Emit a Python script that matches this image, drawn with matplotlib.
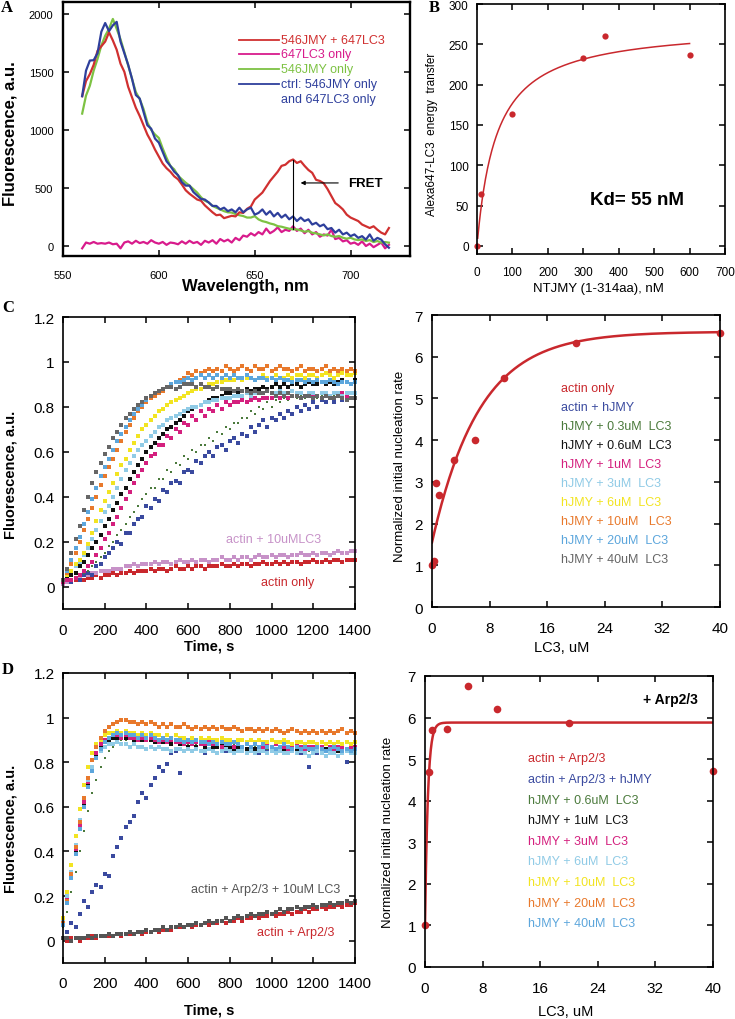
import numpy as np
import matplotlib
matplotlib.use("Agg")
import matplotlib.pyplot as plt

plt.rcParams['font.family'] = ['Liberation Sans', 'DejaVu Sans']

W, H = 735, 1020

# ---------------- Panel A: emission spectra ----------------
wavelength_nm = np.arange(560, 721, 2)
spec_546JMY_647LC3 = [1290, 1420, 1480, 1560, 1680, 1720, 1760, 1840, 1770, 1690,
                      1570, 1500, 1370, 1280, 1190, 1120, 1040, 960, 900, 830,
                      770, 710, 670, 640, 600, 575, 530, 480, 450, 425,
                      400, 390, 350, 320, 290, 265, 270, 240, 250, 260,
                      255, 290, 285, 320, 340, 400, 430, 460, 510, 560,
                      600, 640, 690, 700, 730, 745, 715, 730, 690, 655,
                      630, 570, 560, 540, 490, 430, 370, 345, 315, 270,
                      245, 230, 215, 185, 170, 155, 170, 140, 115, 100,
                      155]
spec_647LC3_only = [-20, 30, 20, 35, 20, 25, 20, 30, 15, 20,
                    -20, 30, 40, 20, 45, 25, 35, 20, 50, 30,
                    20, 35, 10, 30, 25, 15, 40, 20, 45, 25,
                    35, 10, 45, 30, 50, 20, 60, 40, 55, 30,
                    70, 50, 90, 80, 110, 90, 120, 100, 150, 110,
                    130, 160, 120, 140, 130, 170, 130, 150, 110, 140,
                    100, 120, 80, 100, 90, 140, 60, 70, 40, 50,
                    20, 30, 10, 40, 0, 20, -10, 10, 30, -20,
                    10]
spec_546JMY_only = [1140, 1295, 1380, 1510, 1610, 1727, 1810, 1870, 1955, 1870,
                    1780, 1670, 1555, 1440, 1325, 1266, 1180, 1065, 1000, 960,
                    930, 840, 760, 690, 660, 605, 575, 545, 520, 490,
                    460, 420, 390, 375, 345, 330, 315, 300, 290, 288,
                    275, 265, 258, 245, 245, 257, 229, 214, 206, 194,
                    186, 171, 166, 157, 149, 143, 143, 134, 123, 129,
                    114, 109, 100, 91, 100, 86, 80, 86, 71, 63,
                    71, 57, 51, 57, 43, 51, 34, 43, 29, 34,
                    29]
spec_ctrl = [1290, 1510, 1597, 1600, 1660, 1845, 1920, 1850, 1900, 1930,
             1760, 1660, 1560, 1440, 1300, 1270, 1155, 1040, 1010, 925,
             890, 810, 730, 690, 640, 610, 550, 520, 520, 465,
             435, 405, 400, 375, 345, 345, 315, 330, 300, 315,
             290, 330, 290, 315, 330, 270, 285, 315, 270, 300,
             255, 285, 245, 270, 230, 255, 215, 245, 215, 230,
             185, 200, 170, 185, 145, 155, 115, 140, 100, 115,
             85, 100, 70, 85, 55, 100, 45, 70, 55, 15,
             -15]
legend_A = ["546JMY + 647LC3", "647LC3 only", "546JMY only", "ctrl: 546JMY only"]

# ---------------- Panel B: binding ----------------
ntjmy_nM = [0, 10, 100, 300, 360, 600]
energy_transfer = [0, 64, 163, 233, 260, 237]
kd_nM = 55
bmax = 274

# ---------------- Panel C: time courses (no Arp2/3) ----------------
time_s = np.arange(0, 1401, 20)
c_actin_only = [0.01,0.02,0.02,0.03,0.03,0.03,0.04,0.04,0.05,0.04,0.05,0.05,0.06,0.05,0.06,0.06,0.07,0.06,0.07,0.07,
                0.07,0.08,0.07,0.08,0.08,0.07,0.08,0.09,0.08,0.08,0.09,0.08,0.09,0.09,0.08,0.09,0.09,0.09,0.10,0.09,
                0.09,0.10,0.09,0.10,0.10,0.09,0.10,0.10,0.11,0.10,0.10,0.11,0.10,0.11,0.10,0.11,0.11,0.10,0.11,0.11,
                0.12,0.11,0.11,0.12,0.11,0.12,0.12,0.11,0.12,0.12,0.12]
c_actin_lc3 = [0.01,0.02,0.03,0.04,0.04,0.05,0.05,0.06,0.06,0.07,0.07,0.07,0.08,0.08,0.08,0.09,0.09,0.10,0.09,0.10,
               0.10,0.10,0.11,0.10,0.11,0.11,0.10,0.11,0.12,0.11,0.11,0.12,0.11,0.12,0.12,0.11,0.12,0.12,0.13,0.12,
               0.12,0.13,0.12,0.13,0.13,0.12,0.13,0.14,0.13,0.13,0.14,0.13,0.14,0.14,0.13,0.14,0.14,0.15,0.14,0.14,
               0.15,0.14,0.15,0.15,0.14,0.15,0.16,0.15,0.15,0.16,0.16]
c_hjmy = [0.02,0.03,0.02,0.04,0.03,0.05,0.06,0.05,0.09,0.10,0.13,0.15,0.17,0.20,0.19,0.24,0.24,0.28,0.30,0.31,
          0.36,0.35,0.39,0.38,0.43,0.42,0.46,0.47,0.46,0.51,0.52,0.51,0.56,0.55,0.58,0.60,0.58,0.62,0.63,0.61,
          0.65,0.66,0.64,0.68,0.67,0.71,0.69,0.72,0.74,0.71,0.75,0.74,0.77,0.75,0.78,0.77,0.80,0.78,0.81,0.79,
          0.82,0.80,0.83,0.82,0.84,0.82,0.85,0.83,0.85,0.84,0.86]
c_lc3_0_3 = [0.02,0.03,0.03,0.04,0.05,0.06,0.07,0.09,0.11,0.13,0.15,0.18,0.20,0.23,0.25,0.28,0.31,0.33,0.36,0.39,
             0.41,0.44,0.44,0.48,0.48,0.52,0.51,0.55,0.54,0.58,0.57,0.61,0.60,0.63,0.63,0.66,0.65,0.69,0.68,0.71,
             0.70,0.73,0.73,0.75,0.75,0.78,0.77,0.80,0.79,0.82,0.80,0.83,0.82,0.84,0.83,0.85,0.84,0.85,0.84,0.86,
             0.85,0.84,0.85,0.85,0.84,0.85,0.85,0.84,0.85,0.84,0.85]
c_lc3_0_6 = [0.03,0.04,0.05,0.06,0.09,0.11,0.14,0.17,0.20,0.23,0.27,0.30,0.34,0.37,0.41,0.44,0.48,0.51,0.54,0.57,
             0.60,0.62,0.64,0.66,0.68,0.70,0.71,0.73,0.74,0.76,0.78,0.79,0.80,0.81,0.82,0.83,0.84,0.84,0.85,0.86,
             0.86,0.87,0.86,0.87,0.88,0.87,0.88,0.88,0.89,0.88,0.89,0.90,0.89,0.90,0.89,0.90,0.90,0.89,0.90,0.91,
             0.90,0.90,0.91,0.90,0.91,0.90,0.91,0.92,0.91,0.90,0.92]
c_lc3_1 = [0.02,0.03,0.03,0.04,0.05,0.07,0.09,0.11,0.14,0.17,0.21,0.24,0.28,0.31,0.35,0.39,0.42,0.46,0.49,0.52,
           0.55,0.58,0.59,0.63,0.63,0.67,0.66,0.70,0.69,0.73,0.72,0.76,0.74,0.78,0.76,0.79,0.78,0.81,0.79,0.82,
           0.81,0.82,0.82,0.83,0.82,0.83,0.84,0.83,0.84,0.84,0.84,0.85,0.84,0.85,0.84,0.85,0.85,0.84,0.85,0.86,
           0.85,0.85,0.86,0.85,0.85,0.86,0.85,0.86,0.85,0.86,0.86]
c_lc3_3 = [0.03,0.05,0.07,0.09,0.11,0.14,0.17,0.21,0.25,0.29,0.33,0.36,0.40,0.44,0.48,0.52,0.55,0.58,0.61,0.63,
           0.65,0.67,0.69,0.71,0.72,0.74,0.75,0.76,0.77,0.78,0.79,0.80,0.80,0.81,0.82,0.82,0.83,0.83,0.84,0.84,
           0.84,0.85,0.85,0.85,0.86,0.85,0.86,0.86,0.86,0.87,0.86,0.86,0.87,0.86,0.86,0.87,0.86,0.86,0.85,0.86,
           0.86,0.85,0.86,0.86,0.85,0.86,0.86,0.85,0.86,0.86,0.86]
c_lc3_6 = [0.03,0.05,0.07,0.10,0.12,0.15,0.19,0.24,0.29,0.34,0.38,0.42,0.46,0.50,0.54,0.57,0.61,0.64,0.67,0.70,
           0.72,0.74,0.76,0.78,0.79,0.81,0.82,0.83,0.84,0.85,0.86,0.87,0.88,0.88,0.89,0.90,0.90,0.91,0.91,0.92,
           0.92,0.92,0.93,0.92,0.93,0.93,0.92,0.93,0.94,0.93,0.93,0.94,0.93,0.93,0.94,0.93,0.94,0.94,0.93,0.94,
           0.94,0.93,0.94,0.95,0.94,0.93,0.94,0.95,0.94,0.94,0.95]
c_lc3_10 = [0.03,0.06,0.10,0.15,0.20,0.25,0.30,0.35,0.40,0.45,0.49,0.53,0.57,0.61,0.65,0.69,0.72,0.75,0.78,0.80,
            0.82,0.84,0.85,0.86,0.87,0.89,0.90,0.91,0.92,0.93,0.95,0.94,0.96,0.95,0.96,0.97,0.96,0.97,0.96,0.98,
            0.97,0.96,0.97,0.98,0.97,0.96,0.98,0.97,0.97,0.98,0.96,0.97,0.98,0.97,0.97,0.96,0.97,0.98,0.96,0.97,
            0.97,0.96,0.97,0.98,0.96,0.97,0.96,0.97,0.96,0.97,0.96]
c_lc3_20 = [0.03,0.07,0.12,0.17,0.22,0.28,0.33,0.39,0.44,0.49,0.53,0.57,0.61,0.65,0.68,0.71,0.74,0.77,0.79,0.81,
            0.83,0.85,0.86,0.87,0.88,0.89,0.90,0.91,0.91,0.92,0.93,0.92,0.93,0.94,0.93,0.94,0.93,0.94,0.93,0.94,
            0.93,0.94,0.93,0.93,0.94,0.93,0.92,0.93,0.93,0.92,0.93,0.92,0.93,0.92,0.92,0.91,0.92,0.92,0.91,0.92,
            0.91,0.92,0.91,0.91,0.92,0.91,0.90,0.91,0.91,0.90,0.91]
c_lc3_40 = [0.03,0.08,0.15,0.21,0.27,0.34,0.40,0.46,0.51,0.55,0.59,0.62,0.66,0.69,0.72,0.75,0.77,0.79,0.81,0.82,
            0.84,0.85,0.86,0.87,0.88,0.89,0.89,0.88,0.89,0.90,0.90,0.90,0.89,0.90,0.89,0.89,0.88,0.89,0.88,0.88,
            0.88,0.87,0.88,0.87,0.87,0.86,0.87,0.86,0.86,0.87,0.86,0.85,0.86,0.85,0.86,0.85,0.85,0.84,0.85,0.85,
            0.84,0.85,0.84,0.85,0.84,0.84,0.85,0.84,0.83,0.84,0.84]

# Panel C right: initial nucleation rate vs LC3
c_lc3_uM = [0, 0.3, 0.6, 1, 3, 6, 10, 20, 40]
c_rate = [1.0, 1.1, 2.97, 2.69, 3.53, 4.0, 5.48, 6.34, 6.56]
c_fit_max, c_fit_amp, c_fit_k = 6.6, 5.05, 6.6
c_legend = ["actin only", "actin + hJMY", "hJMY + 0.3uM  LC3", "hJMY + 0.6uM  LC3",
            "hJMY + 1uM  LC3", "hJMY + 3uM  LC3", "hJMY + 6uM  LC3", "hJMY + 10uM   LC3",
            "hJMY + 20uM  LC3", "hJMY + 40uM  LC3"]

# ---------------- Panel D: time courses (+ Arp2/3) ----------------
d_actin_arp = [0.01,0.00,0.01,0.01,0.00,0.01,0.01,0.02,0.01,0.02,0.02,0.02,0.02,0.03,0.02,0.03,0.03,0.03,0.04,0.03,
               0.04,0.04,0.05,0.04,0.05,0.05,0.05,0.06,0.06,0.06,0.07,0.06,0.07,0.07,0.08,0.07,0.08,0.08,0.09,0.08,
               0.09,0.09,0.10,0.09,0.10,0.10,0.11,0.10,0.11,0.11,0.12,0.11,0.12,0.12,0.13,0.12,0.13,0.13,0.14,0.13,
               0.14,0.14,0.15,0.14,0.15,0.15,0.16,0.15,0.16,0.16,0.17]
d_arp_lc3 = [0.01,0.01,0.00,0.01,0.01,0.01,0.02,0.01,0.02,0.02,0.02,0.03,0.02,0.03,0.03,0.03,0.04,0.03,0.04,0.04,
             0.05,0.04,0.05,0.05,0.06,0.05,0.06,0.06,0.07,0.06,0.07,0.07,0.08,0.07,0.08,0.09,0.08,0.09,0.09,0.10,
             0.09,0.10,0.11,0.10,0.11,0.12,0.11,0.12,0.12,0.13,0.12,0.13,0.14,0.13,0.14,0.14,0.15,0.14,0.15,0.15,
             0.16,0.15,0.16,0.16,0.17,0.16,0.17,0.17,0.18,0.17,0.18]
d_hjmy = [0.10,0.04,0.08,0.06,0.12,0.18,0.15,0.22,0.25,0.24,0.30,0.29,0.38,0.42,0.46,0.51,0.53,0.56,0.62,0.66,
          0.64,0.70,0.73,0.78,0.76,0.79,0.84,0.85,0.75,0.85,0.86,0.85,0.86,0.85,0.84,0.86,0.85,0.84,0.86,0.85,
          0.85,0.84,0.86,0.85,0.84,0.85,0.86,0.84,0.85,0.86,0.85,0.84,0.85,0.86,0.84,0.85,0.86,0.84,0.85,0.78,
          0.85,0.84,0.86,0.85,0.84,0.85,0.86,0.84,0.80,0.85,0.86]
d_lc3_0_6 = [0.06,0.13,0.22,0.31,0.40,0.49,0.58,0.66,0.72,0.78,0.82,0.85,0.87,0.89,0.90,0.90,0.91,0.90,0.90,0.91,
             0.90,0.90,0.89,0.90,0.89,0.90,0.89,0.89,0.88,0.89,0.88,0.89,0.88,0.88,0.87,0.88,0.88,0.87,0.88,0.87,
             0.87,0.88,0.87,0.87,0.86,0.87,0.87,0.86,0.87,0.86,0.87,0.86,0.86,0.87,0.86,0.86,0.85,0.86,0.86,0.85,
             0.86,0.86,0.85,0.86,0.85,0.86,0.86,0.85,0.86,0.85,0.86]
d_lc3_1 = [0.08,0.18,0.29,0.40,0.51,0.61,0.70,0.78,0.83,0.87,0.89,0.90,0.91,0.91,0.92,0.91,0.91,0.90,0.91,0.90,
           0.90,0.90,0.89,0.90,0.89,0.89,0.88,0.89,0.88,0.88,0.87,0.88,0.87,0.88,0.87,0.88,0.87,0.87,0.88,0.87,
           0.87,0.86,0.87,0.87,0.86,0.87,0.86,0.87,0.86,0.87,0.86,0.86,0.87,0.86,0.86,0.87,0.86,0.86,0.85,0.86,
           0.86,0.85,0.86,0.86,0.85,0.86,0.85,0.86,0.86,0.85,0.86]
d_lc3_3 = [0.09,0.19,0.30,0.41,0.52,0.62,0.71,0.78,0.84,0.88,0.90,0.91,0.92,0.92,0.91,0.92,0.91,0.91,0.90,0.91,
           0.90,0.91,0.90,0.89,0.90,0.89,0.90,0.89,0.89,0.88,0.89,0.88,0.89,0.88,0.88,0.89,0.88,0.88,0.87,0.88,
           0.88,0.87,0.88,0.87,0.88,0.87,0.88,0.87,0.87,0.88,0.87,0.88,0.87,0.87,0.86,0.87,0.88,0.87,0.86,0.87,
           0.87,0.86,0.87,0.88,0.87,0.86,0.87,0.87,0.86,0.87,0.87]
d_lc3_6 = [0.09,0.20,0.31,0.43,0.54,0.64,0.72,0.78,0.82,0.85,0.87,0.88,0.88,0.89,0.88,0.88,0.87,0.88,0.87,0.87,
           0.86,0.87,0.86,0.87,0.86,0.86,0.85,0.86,0.86,0.85,0.86,0.85,0.86,0.85,0.85,0.86,0.85,0.84,0.85,0.86,
           0.85,0.84,0.85,0.85,0.84,0.85,0.84,0.85,0.85,0.84,0.85,0.84,0.85,0.84,0.84,0.85,0.84,0.85,0.84,0.83,
           0.84,0.85,0.84,0.83,0.84,0.84,0.83,0.84,0.85,0.84,0.84]
d_lc3_10 = [0.10,0.22,0.34,0.47,0.59,0.70,0.78,0.84,0.88,0.90,0.92,0.93,0.93,0.94,0.93,0.94,0.93,0.93,0.92,0.93,
            0.92,0.93,0.92,0.92,0.91,0.92,0.91,0.92,0.91,0.91,0.90,0.91,0.90,0.91,0.90,0.91,0.90,0.90,0.91,0.90,
            0.90,0.89,0.90,0.90,0.89,0.90,0.89,0.90,0.89,0.89,0.90,0.89,0.89,0.90,0.89,0.88,0.89,0.89,0.88,0.89,
            0.89,0.88,0.89,0.88,0.89,0.88,0.89,0.88,0.89,0.88,0.89]
d_lc3_20 = [0.08,0.18,0.30,0.42,0.53,0.64,0.73,0.81,0.87,0.91,0.94,0.96,0.97,0.98,0.99,0.99,0.98,0.98,0.97,0.98,
            0.97,0.98,0.97,0.96,0.97,0.96,0.97,0.96,0.96,0.97,0.96,0.95,0.96,0.95,0.96,0.95,0.96,0.95,0.96,0.95,
            0.95,0.96,0.95,0.94,0.95,0.95,0.94,0.95,0.94,0.95,0.94,0.95,0.94,0.93,0.94,0.95,0.94,0.93,0.94,0.93,
            0.94,0.93,0.94,0.93,0.94,0.93,0.94,0.95,0.93,0.94,0.93]
d_lc3_40 = [0.07,0.17,0.28,0.39,0.50,0.60,0.69,0.76,0.82,0.86,0.89,0.91,0.92,0.93,0.92,0.93,0.92,0.92,0.91,0.92,
            0.91,0.92,0.91,0.90,0.91,0.90,0.91,0.90,0.90,0.89,0.90,0.89,0.90,0.89,0.89,0.88,0.89,0.88,0.89,0.88,
            0.88,0.89,0.88,0.87,0.88,0.87,0.88,0.87,0.88,0.87,0.87,0.86,0.87,0.88,0.87,0.86,0.87,0.86,0.87,0.86,
            0.86,0.87,0.86,0.85,0.86,0.87,0.86,0.85,0.86,0.85,0.86]

# Panel D right
d_lc3_uM = [0, 0.6, 1, 3, 6, 10, 20, 40]
d_rate = [1.0, 4.68, 5.70, 5.72, 6.76, 6.20, 5.86, 4.72]
d_fit_max, d_fit_amp, d_fit_k = 5.88, 4.88, 0.4
d_legend = ["actin + Arp2/3", "actin + Arp2/3 + hJMY", "hJMY + 0.6uM  LC3", "hJMY + 1uM  LC3",
            "hJMY + 3uM  LC3", "hJMY + 6uM  LC3", "hJMY + 10uM  LC3", "hJMY + 20uM  LC3",
            "hJMY + 40uM  LC3"]

# ---------------- colours ----------------
RED = '#c9282d'
LAV = '#c792c8'
BLUE = '#3a4a9f'
GREEN = '#4b7a3c'
BLACK = '#111111'
MAG = '#d4207e'
LBLUE = '#90cbe6'
YEL = '#f2e422'
ORG = '#e8792c'
SKY = '#5ca6dc'
GRAY = '#666666'

fig = plt.figure(figsize=(W / 100, H / 100), dpi=100)


def px_rect(l, t, r, b):
    return [l / W, 1 - b / H, (r - l) / W, (b - t) / H]


def ftext(x, y, s, **kw):
    fig.text(x / W, 1 - y / H, s, **kw)


def style(ax, size, xpad, ypad, lw=1.2):
    for sp in ax.spines.values():
        sp.set_linewidth(lw)
    ax.tick_params(direction='in', top=True, right=True, length=4.5, width=1.1,
                   labelsize=size)
    ax.tick_params(axis='x', pad=xpad)
    ax.tick_params(axis='y', pad=ypad)


# ================= Panel A =================
axA = fig.add_axes(px_rect(63, 3, 410, 257))
axA.plot(wavelength_nm, spec_647LC3_only, color='#d81b8c', lw=1.6)
axA.plot(wavelength_nm, spec_546JMY_only, color='#7dc243', lw=1.6)
axA.plot(wavelength_nm, spec_546JMY_647LC3, color='#d03030', lw=1.6)
axA.plot(wavelength_nm, spec_ctrl, color='#2e3f9c', lw=1.6)
axA.set_xlim(550, 731)
axA.set_ylim(-86, 2101)
axA.set_xticks([550, 600, 650, 700])
axA.set_yticks([0, 500, 1000, 1500, 2000])
style(axA, 8, 10, 7, lw=1.7)
leg_cols = ['#d03030', '#d81b8c', '#7dc243', '#2e3f9c']
leg_y = [1776, 1655, 1526, 1397]
for lab, col, yv in zip(legend_A, leg_cols, leg_y):
    axA.plot([642, 662.5], [yv, yv], color=col, lw=1.3)
    axA.text(663.5, yv, lab, color=col, fontsize=9, va='center')
axA.text(663.5, 1267, "and 647LC3 only", color='#2e3f9c', fontsize=9, va='center')
axA.plot([670, 670], [740, 150], color='k', lw=0.8)
axA.annotate('', xy=(672.5, 543), xytext=(695, 543),
             arrowprops=dict(arrowstyle='-|>', color='k', lw=0.8, mutation_scale=6))
axA.text(698.6, 543, 'FRET', fontsize=9.5, fontweight='bold', va='center')
ftext(245, 287, 'Wavelength, nm', fontsize=12, fontweight='bold', ha='center', va='center')
ftext(10, 134, 'Fluorescence, a.u.', fontsize=12, fontweight='bold', ha='center',
      va='center', rotation=90)

# ================= Panel B =================
axB = fig.add_axes(px_rect(477, 5, 725, 255))
xf = np.linspace(2, 600, 300)
axB.plot(xf, bmax * xf / (kd_nM + xf), color=RED, lw=1.1)
axB.plot(ntjmy_nM, energy_transfer, 'o', color=RED, ms=4.5, mew=0, clip_on=False)
axB.set_xlim(0, 700)
axB.set_ylim(-10, 300)
axB.set_xticks(range(0, 701, 100))
axB.set_yticks(range(0, 301, 50))
style(axB, 8.5, 9, 6)
axB.text(320, 58, 'Kd= 55 nM', fontsize=13.5, fontweight='bold', va='center')
ftext(598, 289, 'NTJMY (1-314aa), nM', fontsize=9.5, ha='center', va='center')
ftext(432, 134, 'Alexa647-LC3  energy  transfer', fontsize=8.5, ha='center', va='center',
      rotation=90)

# ================= Panel C left =================
axC = fig.add_axes(px_rect(63, 318, 355, 610))
c_series = [(c_actin_only, RED), (c_actin_lc3, LAV), (c_hjmy, BLUE), (c_lc3_0_3, GREEN),
            (c_lc3_0_6, BLACK), (c_lc3_1, MAG), (c_lc3_3, LBLUE), (c_lc3_6, YEL),
            (c_lc3_10, ORG), (c_lc3_20, SKY), (c_lc3_40, GRAY)]
for ys, col in c_series:
    ms = 2.0 if col == GREEN else 2.6
    axC.plot(time_s, ys, 's', color=col, ms=ms, mew=0, clip_on=False)
axC.set_xlim(0, 1400)
axC.set_ylim(-0.1, 1.2)
axC.set_xticks(range(0, 1401, 200))
axC.set_yticks([0, 0.2, 0.4, 0.6, 0.8, 1.0, 1.2])
axC.set_yticklabels(['0', '0.2', '0.4', '0.6', '0.8', '1', '1.2'])
style(axC, 11, 10, 6)
axC.text(781, 0.21, 'actin + 10uMLC3', color=LAV, fontsize=9, va='center')
axC.text(949, 0.018, 'actin only', color=RED, fontsize=9, va='center')
ftext(209, 647, 'Time, s', fontsize=10.5, fontweight='bold', ha='center', va='center')
ftext(11, 475, 'Fluorescence, a.u.', fontsize=10.5, fontweight='bold', ha='center',
      va='center', rotation=90)

# ================= Panel C right =================
axCr = fig.add_axes(px_rect(432, 316, 720, 608))
xf = np.linspace(0, 40, 300)
axCr.plot(xf, c_fit_max - c_fit_amp * np.exp(-xf / c_fit_k), color=RED, lw=1.8)
axCr.plot(c_lc3_uM, c_rate, 'o', color=RED, ms=5.5, mew=0, clip_on=False)
axCr.set_xlim(0, 40)
axCr.set_ylim(0, 7)
axCr.set_xticks(range(0, 41, 8))
axCr.set_yticks(range(0, 8))
style(axCr, 11, 10, 6.5)
c_leg_cols = [RED, BLUE, GREEN, BLACK, MAG, LBLUE, YEL, ORG, SKY, GRAY]
for i, (lab, col) in enumerate(zip(c_legend, c_leg_cols)):
    axCr.text(17.96, 5.256 - 0.456 * i, lab, color=col, fontsize=9, va='center')
ftext(562, 648, 'LC3, uM', fontsize=10.5, ha='center', va='center')
ftext(400, 466, 'Normalized initial nucleation rate', fontsize=9.5, ha='center',
      va='center', rotation=90)

# ================= Panel D left =================
axD = fig.add_axes(px_rect(63, 674, 355, 964))
d_series = [(d_actin_arp, RED), (d_arp_lc3, '#555555'), (d_hjmy, BLUE), (d_lc3_0_6, GREEN),
            (d_lc3_1, BLACK), (d_lc3_3, MAG), (d_lc3_6, LBLUE), (d_lc3_10, YEL),
            (d_lc3_20, ORG), (d_lc3_40, SKY)]
for ys, col in d_series:
    ms = 2.0 if col == GREEN else 2.6
    axD.plot(time_s, ys, 's', color=col, ms=ms, mew=0, clip_on=False)
axD.set_xlim(0, 1400)
axD.set_ylim(-0.1, 1.2)
axD.set_xticks(range(0, 1401, 200))
axD.set_yticks([0, 0.2, 0.4, 0.6, 0.8, 1.0, 1.2])
axD.set_yticklabels(['0', '0.2', '0.4', '0.6', '0.8', '1', '1.2'])
style(axD, 11, 9.5, 6)
axD.text(612, 0.23, 'actin + Arp2/3 + 10uM LC3', color='#555555', fontsize=9, va='center')
axD.text(930, 0.04, 'actin + Arp2/3', color=RED, fontsize=9, va='center')
ftext(209, 1011, 'Time, s', fontsize=10.5, fontweight='bold', ha='center', va='center')
ftext(11, 829, 'Fluorescence, a.u.', fontsize=10.5, fontweight='bold', ha='center',
      va='center', rotation=90)

# ================= Panel D right =================
axDr = fig.add_axes(px_rect(425, 677, 713, 968))
xf = np.linspace(0, 40, 600)
axDr.plot(xf, d_fit_max - d_fit_amp * np.exp(-xf / d_fit_k), color=RED, lw=1.8)
axDr.plot(d_lc3_uM, d_rate, 'o', color=RED, ms=5.5, mew=0, clip_on=False)
axDr.set_xlim(0, 40)
axDr.set_ylim(0, 7)
axDr.set_xticks(range(0, 41, 8))
axDr.set_yticks(range(0, 8))
style(axDr, 11, 10, 6.5)
d_leg_cols = [RED, BLUE, GREEN, BLACK, MAG, LBLUE, YEL, ORG, SKY]
for i, (lab, col) in enumerate(zip(d_legend, d_leg_cols)):
    axDr.text(14.35, 5.016 - 0.495 * i, lab, color=col, fontsize=9, va='center')
axDr.text(37.96, 6.44, '+ Arp2/3', fontsize=10, fontweight='bold', ha='right', va='center')
ftext(566, 1012, 'LC3, uM', fontsize=10.5, ha='center', va='center')
ftext(388, 832, 'Normalized initial nucleation rate', fontsize=9.5, ha='center',
      va='center', rotation=90)

# panel letters
for lab, x, y in [('A', 7, 8), ('B', 434, 8), ('C', 8, 308), ('D', 8, 670)]:
    ftext(x, y, lab, fontsize=12, fontweight='bold', family='Liberation Serif',
          ha='center', va='center')

fig.savefig('out.png', dpi=100)
